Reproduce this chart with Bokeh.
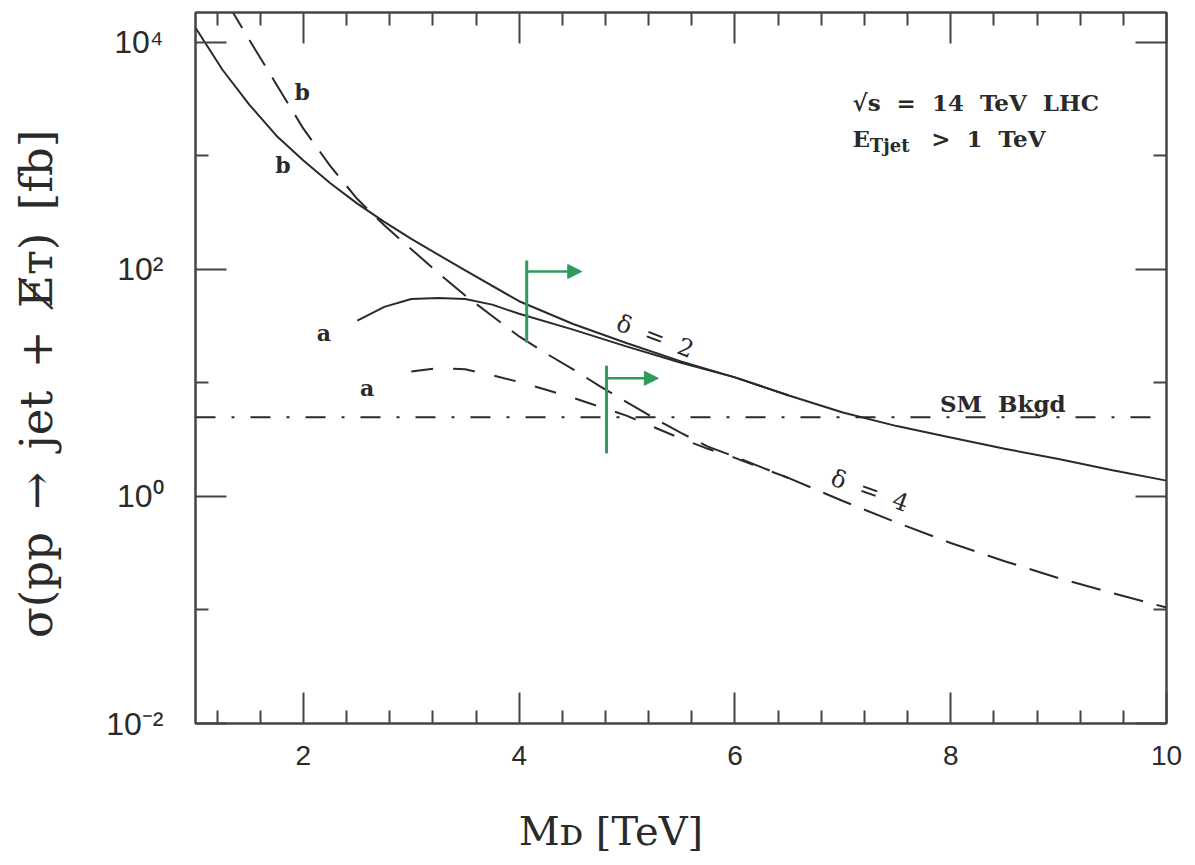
import math
from bokeh.plotting import figure
from bokeh.models import Range1d, FixedTicker, LinearAxis, LogAxis, Label, Arrow, NormalHead
from bokeh.embed import file_html
from bokeh.resources import INLINE

# ---------------- data (sigma in fb vs M_D in TeV) ----------------
md_d2_b = [1.0, 1.25, 1.5, 1.75, 2.0, 2.25, 2.5, 2.75, 3.0, 3.5, 4.0, 4.5, 5.0, 5.5,
           6.0, 6.5, 7.0, 7.5, 8.0, 8.5, 9.0, 9.5, 10.0]
xs_d2_b = [13500, 5750, 2820, 1510, 912, 575, 380, 263, 186, 98, 52.5, 33.1, 22.4, 15.5,
           11.2, 7.76, 5.50, 4.17, 3.31, 2.63, 2.14, 1.70, 1.38]

md_d2_a = [2.5, 2.75, 3.0, 3.25, 3.5, 3.75, 4.0, 4.5, 5.0, 5.5, 6.0, 6.5]
xs_d2_a = [35.5, 46.8, 55.0, 56.2, 55.0, 49.0, 40.7, 29.5, 20.9, 15.1, 11.2, 7.76]

md_d4_b = [1.3, 1.35, 1.5, 1.75, 2.0, 2.25, 2.5, 2.75, 3.0, 3.25, 3.5, 3.75, 4.0, 4.25,
           4.5, 4.75, 5.0, 5.25, 5.5, 5.75, 6.0, 6.5, 7.0, 7.5, 8.0, 8.5, 9.0, 9.5, 10.0]
xs_d4_b = [22900, 18200, 10500, 4270, 1740, 813, 417, 245, 151, 93.3, 58.9, 38.9, 25.7, 18.2,
           13.2, 9.33, 6.76, 4.90, 3.63, 2.75, 2.24, 1.45, 0.912, 0.589, 0.389, 0.269, 0.191,
           0.141, 0.105]

md_d4_a = [3.0, 3.25, 3.5, 3.75, 4.0, 4.25, 4.5, 4.75, 5.0, 5.25, 5.5, 5.75, 6.0, 6.5]
xs_d4_a = [12.6, 13.5, 13.2, 11.7, 10.2, 8.71, 7.41, 6.17, 5.13, 4.07, 3.24, 2.63, 2.19, 1.45]

sm_md = [1.0, 10.0]
sm_xs = [5.0, 5.0]

# reach markers (green)
reach_md = [4.07, 4.81]
reach_lo = [22.7, 2.4]
reach_hi = [120.0, 14.2]
reach_arrow_xs = [96.0, 11.0]
reach_arrow_end = [4.58, 5.29]

x_major = [2, 4, 6, 8, 10]
x_minor = [1.2, 1.6, 2.4, 2.8, 3.2, 3.6, 4.4, 4.8, 5.2, 5.6, 6.4, 6.8, 7.2, 7.6,
           8.4, 8.8, 9.2, 9.6]
y_major = [0.01, 1, 100, 10000]
y_minor = [0.1, 10, 1000]
y_labels = {0.01: "10\u207b\u00b2", 1: "10\u2070", 100: "10\u00b2", 10000: "10\u2074"}

# ---------------- figure ----------------
INK = "#2a2a2a"
AX = "#444444"
GREEN = "#2e9a5c"
SERIF = "DejaVu Serif"
EM = "\u2003"
EN = "\u2002"
THIN = "\u2009"
FIG = "\u2007"

p = figure(width=1194, height=864,
           x_range=Range1d(1, 10), y_range=Range1d(0.01, 10 ** 4.264),
           y_axis_type="log", output_backend="svg", toolbar_location=None,
           min_border_left=195, min_border_right=28, min_border_top=12,
           min_border_bottom=141)
p.grid.visible = False
p.outline_line_color = AX
p.outline_line_width = 2
p.background_fill_color = "white"
p.border_fill_color = "white"

xt = FixedTicker(ticks=x_major, minor_ticks=x_minor)
yt = FixedTicker(ticks=y_major, minor_ticks=y_minor)


def style(ax):
    ax.axis_line_color = AX
    ax.axis_line_width = 2
    ax.major_tick_line_color = AX
    ax.major_tick_line_width = 2
    ax.minor_tick_line_color = AX
    ax.minor_tick_line_width = 2
    ax.major_tick_in = 31
    ax.major_tick_out = 0
    ax.minor_tick_in = 13
    ax.minor_tick_out = 0
    ax.major_label_text_color = "#2a2a2a"
    ax.major_label_text_font = "Liberation Sans"
    ax.axis_label_text_font = SERIF
    ax.axis_label_text_font_style = "normal"
    ax.axis_label_text_color = "#2a2a2a"


xa = p.xaxis[0]
xa.ticker = xt
style(xa)
xa.major_label_text_font_size = "28px"
xa.major_label_standoff = 22
xa.axis_label = "M\u1d05 [TeV]" + EM + EM + EM + EN
xa.axis_label_text_font_size = "40px"
xa.axis_label_standoff = 40

ya = p.yaxis[0]
ya.ticker = yt
style(ya)
ya.major_label_text_font_size = "32px"
ya.major_label_standoff = 32
ya.major_label_overrides = y_labels
ya.axis_label = ("\u03c3(pp" + EN + "\u2192" + EN + "jet" + EN + "+" + EN + "E\u0338\u1d1b)"
                 + EN + "[fb]" + EN + THIN)
ya.axis_label_text_font_size = "45px"
ya.axis_label_standoff = 40

top = LinearAxis(ticker=xt, major_label_overrides={v: "" for v in x_major})
style(top)
top.major_label_text_font_size = "1px"
top.major_label_standoff = 0
p.add_layout(top, "above")

right = LogAxis(ticker=yt, major_label_overrides={v: "" for v in y_major})
style(right)
right.major_label_text_font_size = "1px"
right.major_label_standoff = 0
p.add_layout(right, "right")

# ---------------- curves ----------------
p.line(md_d2_b, xs_d2_b, line_color=INK, line_width=2)
p.line(md_d2_a, xs_d2_a, line_color=INK, line_width=2)
p.line(md_d4_b, xs_d4_b, line_color=INK, line_width=2, line_dash="30 14")
p.line(md_d4_a, xs_d4_a, line_color=INK, line_width=2, line_dash="22 20")
p.line(sm_md, sm_xs, line_color=INK, line_width=2, line_dash="20 16 3 16")

# green reach markers
p.segment(x0=reach_md, y0=reach_lo, x1=reach_md, y1=reach_hi, line_color=GREEN, line_width=3)
for x0, yv, x1 in zip(reach_md, reach_arrow_xs, reach_arrow_end):
    p.add_layout(Arrow(end=NormalHead(size=14, fill_color=GREEN, line_color=GREEN),
                       x_start=x0, y_start=yv, x_end=x1, y_end=yv,
                       line_color=GREEN, line_width=2.5))


# ---------------- annotations (data coords) ----------------
def lab(x, y, text, size, bold=False, align="center", baseline="middle", angle=0.0):
    p.add_layout(Label(x=x, y=y, text=text, text_font=SERIF, text_font_size=size,
                       text_font_style="bold" if bold else "normal",
                       text_color=INK, text_align=align, text_baseline=baseline,
                       angle=angle))


lab(1.99, 10 ** 3.56, "b", "22px", bold=True)
lab(1.81, 10 ** 2.92, "b", "22px", bold=True)
lab(2.19, 10 ** 1.44, "a", "22px", bold=True)
lab(2.59, 10 ** 0.96, "a", "22px", bold=True)
lab(5.26, 10 ** 1.41, "\u03b4" + FIG + "=" + FIG + "2", "24px", angle=math.radians(-21))
lab(7.25, 10 ** 0.05, "\u03b4" + FIG + "=" + FIG + "4", "24px", angle=math.radians(-20))
lab(7.90, 10 ** 0.82, "SM" + FIG + "Bkgd", "23px", bold=True, align="left", baseline="alphabetic")

lab(7.09, 10 ** 3.47, "\u221as" + FIG + "=" + FIG + "14" + FIG + "TeV" + FIG + "LHC", "23px",
    bold=True, align="left", baseline="alphabetic")
lab(7.09, 10 ** 3.15, "E", "23px", bold=True, align="left", baseline="alphabetic")
lab(7.25, 10 ** 3.09, "Tjet", "18px", bold=True, align="left", baseline="alphabetic")
lab(7.82, 10 ** 3.15, ">" + FIG + "1" + FIG + "TeV", "23px", bold=True, align="left",
    baseline="alphabetic")

open("out.html", "w").write(file_html(p, INLINE))
